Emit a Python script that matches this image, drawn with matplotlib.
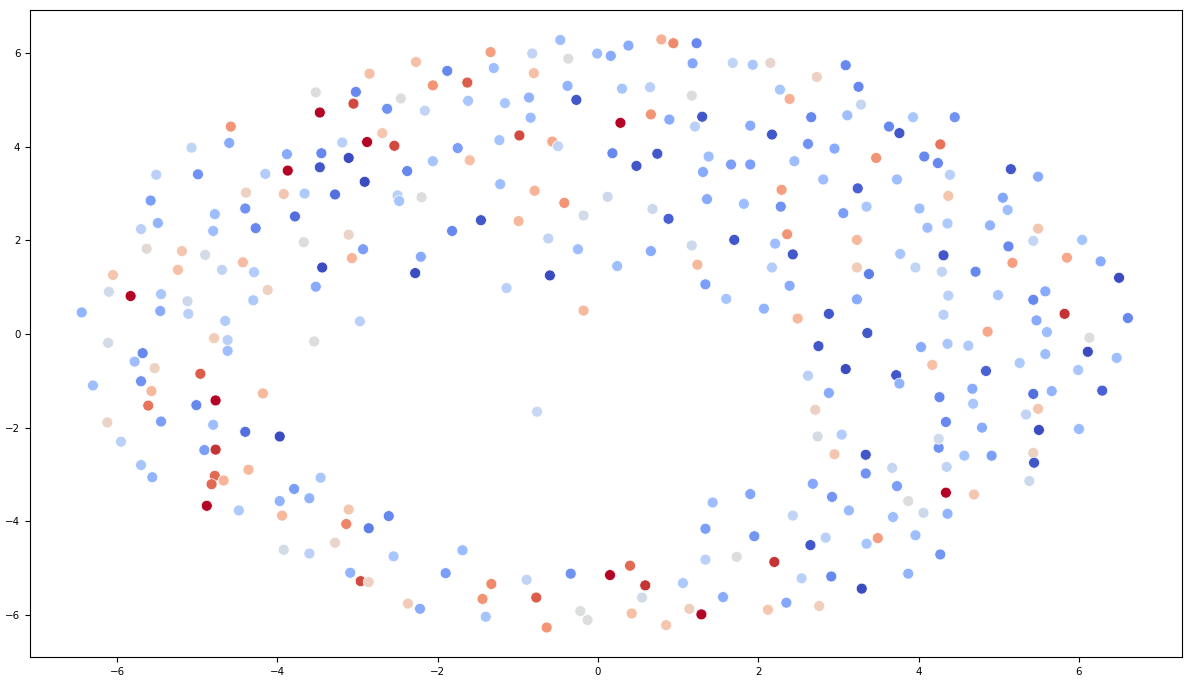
import numpy as np
import matplotlib
matplotlib.use("Agg")
import matplotlib.pyplot as plt
from matplotlib.colors import Normalize

# points: (x, y, colour value)
pts = [
    (-0.47, 6.28, 0.33), (-1.34, 6.02, 0.70), (-0.82, 5.99, 0.42), (-0.01, 5.99, 0.33),
    (0.16, 5.94, 0.28), (-0.37, 5.88, 0.50), (-2.27, 5.81, 0.62), (-2.85, 5.56, 0.62),
    (-1.88, 5.62, 0.20), (-1.30, 5.68, 0.33), (-0.80, 5.57, 0.62), (-1.63, 5.37, 0.82),
    (-2.06, 5.31, 0.72), (-3.02, 5.17, 0.20), (-3.05, 4.92, 0.85), (-2.46, 5.03, 0.50),
    (-2.63, 4.81, 0.22), (-2.16, 4.77, 0.42), (-1.62, 4.98, 0.36), (-1.16, 4.93, 0.36),
    (-0.86, 5.05, 0.30), (-0.38, 5.30, 0.30), (-0.27, 5.00, 0.10), (-0.84, 4.62, 0.32),
    (-3.47, 4.73, 1.00), (-3.19, 4.09, 0.40), (-2.88, 4.10, 0.98), (-2.69, 4.29, 0.60),
    (-2.54, 4.02, 0.85), (-3.45, 3.86, 0.20), (-3.11, 3.76, 0.08), (-3.47, 3.56, 0.10),
    (-2.91, 3.25, 0.08), (-3.28, 2.98, 0.15), (-2.38, 3.48, 0.20), (-2.06, 3.69, 0.35),
    (-1.75, 3.97, 0.25), (-1.60, 3.71, 0.62), (-1.23, 4.14, 0.35), (-0.98, 4.24, 0.85),
    (-0.57, 4.11, 0.68), (-0.50, 4.01, 0.42), (0.18, 3.86, 0.20), (-1.22, 3.20, 0.33),
    (-0.79, 3.06, 0.65), (-0.42, 2.80, 0.72), (-0.18, 2.53, 0.47), (0.12, 2.93, 0.45),
    (-2.50, 2.96, 0.40), (-2.48, 2.84, 0.35), (-2.20, 2.92, 0.50), (-1.46, 2.43, 0.10),
    (-0.99, 2.41, 0.64), (-1.82, 2.20, 0.20),
    (-3.52, 5.16, 0.50), (-4.58, 4.43, 0.72), (-4.60, 4.08, 0.28), (-5.07, 3.98, 0.42),
    (-3.88, 3.84, 0.28), (-3.87, 3.49, 0.98), (-5.51, 3.40, 0.40), (-4.99, 3.41, 0.22),
    (-4.15, 3.42, 0.38), (-4.39, 3.02, 0.56), (-3.92, 2.99, 0.60), (-3.66, 3.00, 0.37),
    (-5.58, 2.85, 0.25), (-4.40, 2.68, 0.22), (-3.78, 2.51, 0.15), (-4.78, 2.56, 0.33),
    (-5.49, 2.37, 0.30), (-5.70, 2.24, 0.40), (-4.80, 2.20, 0.33), (-4.27, 2.26, 0.20),
    (-3.67, 1.96, 0.50), (-5.63, 1.82, 0.52), (-5.19, 1.77, 0.60), (-4.90, 1.69, 0.47),
    (-4.43, 1.53, 0.63), (-3.44, 1.42, 0.08), (-6.05, 1.26, 0.60), (-5.24, 1.37, 0.62),
    (-4.69, 1.37, 0.42), (-4.29, 1.32, 0.38), (-4.12, 0.94, 0.56), (-3.52, 1.01, 0.28),
    (-6.10, 0.90, 0.46), (-5.83, 0.81, 1.00), (-5.45, 0.85, 0.36), (-5.12, 0.70, 0.45),
    (-4.30, 0.72, 0.37), (-6.44, 0.46, 0.30), (-5.46, 0.49, 0.28), (-5.11, 0.43, 0.40),
    (-4.65, 0.28, 0.38), (-4.79, -0.09, 0.58), (-4.62, -0.13, 0.40), (-4.62, -0.36, 0.33),
    (-6.11, -0.19, 0.47), (-3.54, -0.16, 0.50), (-5.68, -0.41, 0.20), (-5.78, -0.59, 0.33),
    (-5.53, -0.73, 0.56), (-4.96, -0.85, 0.82), (-6.30, -1.10, 0.33), (-5.70, -1.01, 0.22),
    (-5.57, -1.22, 0.64), (-4.18, -1.27, 0.64), (-5.61, -1.53, 0.78), (-5.01, -1.52, 0.20),
    (-4.77, -1.42, 1.00), (-6.12, -1.89, 0.55), (-5.45, -1.87, 0.25), (-4.80, -1.94, 0.33),
    (-4.40, -2.09, 0.15), (-3.97, -2.19, 0.07), (-5.95, -2.30, 0.40),
    (-4.91, -2.48, 0.25), (-4.77, -2.47, 0.88), (-5.70, -2.80, 0.35), (-5.56, -3.06, 0.30),
    (-4.78, -3.03, 0.80), (-4.82, -3.21, 0.80), (-4.67, -3.13, 0.65), (-4.36, -2.90, 0.64),
    (-4.88, -3.67, 1.00), (-4.48, -3.77, 0.37), (-3.97, -3.57, 0.30), (-3.79, -3.31, 0.25),
    (-3.60, -3.51, 0.30), (-3.46, -3.07, 0.36), (-3.94, -3.88, 0.64), (-3.92, -4.61, 0.47),
    (-3.60, -4.69, 0.40),
    (-3.11, -3.75, 0.60), (-3.14, -4.06, 0.75), (-2.86, -4.15, 0.18), (-2.61, -3.89, 0.20),
    (-3.28, -4.46, 0.54), (-2.55, -4.75, 0.36), (-3.09, -5.10, 0.30), (-2.96, -5.28, 0.85),
    (-2.86, -5.30, 0.56), (-2.37, -5.76, 0.58), (-2.22, -5.87, 0.28), (-1.90, -5.11, 0.25),
    (-1.69, -4.62, 0.32), (-1.33, -5.34, 0.74), (-1.44, -5.66, 0.72), (-1.40, -6.04, 0.35),
    (-0.89, -5.25, 0.42), (-0.77, -5.63, 0.82), (-0.64, -6.27, 0.72), (-0.34, -5.12, 0.22),
    (-0.22, -5.92, 0.50), (-0.13, -6.11, 0.50), (0.15, -5.15, 0.98),
    (0.40, -4.95, 0.80), (0.59, -5.37, 0.88), (0.55, -5.63, 0.47), (0.42, -5.97, 0.62),
    (0.85, -6.22, 0.60), (1.06, -5.32, 0.37), (1.14, -5.87, 0.57), (1.29, -5.99, 0.98),
    (1.56, -5.62, 0.28), (1.34, -4.82, 0.40), (1.73, -4.76, 0.50), (1.34, -4.16, 0.25),
    (1.43, -3.60, 0.33), (1.90, -3.42, 0.27), (1.95, -4.32, 0.23), (2.20, -4.87, 0.88),
    (2.12, -5.89, 0.60), (2.35, -5.74, 0.27), (2.54, -5.22, 0.40), (2.43, -3.88, 0.42),
    (2.68, -3.20, 0.27), (2.65, -4.51, 0.10), (2.84, -4.35, 0.40), (2.76, -5.81, 0.57),
    (2.91, -5.18, 0.20), (2.92, -3.48, 0.23), (3.13, -3.77, 0.32), (2.95, -2.57, 0.60),
    (3.34, -2.58, 0.10), (3.34, -2.98, 0.22), (3.67, -2.86, 0.43), (3.73, -3.25, 0.25),
    (3.68, -3.91, 0.33), (3.49, -4.36, 0.70), (3.35, -4.48, 0.35), (3.29, -5.44, 0.08),
    (4.25, -2.43, 0.22), (4.57, -2.60, 0.35), (4.91, -2.60, 0.25), (5.43, -2.54, 0.56),
    (5.44, -2.75, 0.10), (4.35, -2.84, 0.42), (5.38, -3.14, 0.45), (4.34, -3.39, 1.00),
    (4.69, -3.43, 0.60), (3.87, -3.57, 0.50), (4.06, -3.82, 0.45), (4.36, -3.84, 0.30),
    (3.96, -4.30, 0.33), (4.27, -4.71, 0.23), (3.87, -5.12, 0.30),
    (-3.11, 2.12, 0.55), (-2.93, 1.81, 0.25), (-3.07, 1.62, 0.65), (-2.97, 0.27, 0.40),
    (-2.21, 1.65, 0.28), (-2.28, 1.30, 0.08), (-0.62, 2.04, 0.42), (-0.25, 1.81, 0.33),
    (-0.60, 1.25, 0.08), (-1.14, 0.98, 0.40), (-0.18, 0.50, 0.64), (-0.76, -1.66, 0.44),
    (0.24, 1.45, 0.33),
    (0.66, 1.77, 0.28), (1.17, 1.89, 0.45), (1.70, 2.01, 0.10), (1.24, 1.48, 0.64),
    (1.34, 1.06, 0.25), (1.60, 0.75, 0.35), (2.07, 0.54, 0.30), (2.21, 1.93, 0.33),
    (2.36, 2.13, 0.72), (2.43, 1.70, 0.10), (2.17, 1.42, 0.38), (2.39, 1.03, 0.28),
    (2.49, 0.33, 0.64), (3.23, 2.01, 0.64), (3.23, 1.42, 0.58), (3.38, 1.28, 0.18),
    (3.77, 1.71, 0.36), (3.23, 0.74, 0.28), (2.88, 0.43, 0.10), (3.36, 0.02, 0.10),
    (2.75, -0.26, 0.10), (3.09, -0.75, 0.08), (2.62, -0.89, 0.40), (3.72, -0.88, 0.10),
    (3.76, -1.06, 0.30), (2.88, -1.26, 0.28), (2.71, -1.62, 0.56), (2.74, -2.19, 0.48),
    (3.04, -2.15, 0.38),
    (0.79, 6.29, 0.66), (0.94, 6.21, 0.74), (1.23, 6.21, 0.20), (0.38, 6.16, 0.28),
    (1.18, 5.78, 0.27), (1.68, 5.79, 0.42), (1.93, 5.75, 0.36), (2.15, 5.79, 0.54),
    (3.09, 5.74, 0.20), (2.73, 5.49, 0.56), (3.25, 5.28, 0.20), (3.28, 4.90, 0.43),
    (0.30, 5.24, 0.35), (0.65, 5.27, 0.40), (1.17, 5.09, 0.50), (2.27, 5.22, 0.36),
    (2.39, 5.02, 0.66), (0.28, 4.51, 0.96), (0.66, 4.69, 0.72), (0.89, 4.58, 0.28),
    (1.30, 4.64, 0.10), (1.21, 4.43, 0.40), (1.90, 4.45, 0.28), (2.17, 4.26, 0.10),
    (2.66, 4.63, 0.20), (3.11, 4.67, 0.33), (3.63, 4.43, 0.20), (3.76, 4.29, 0.10),
    (0.74, 3.85, 0.10), (0.48, 3.59, 0.10), (1.38, 3.79, 0.33), (1.31, 3.46, 0.28),
    (1.66, 3.62, 0.25), (1.90, 3.62, 0.25), (2.62, 4.06, 0.22), (2.95, 3.96, 0.28),
    (2.45, 3.69, 0.33), (3.47, 3.76, 0.72), (2.81, 3.30, 0.33), (3.73, 3.30, 0.33),
    (2.29, 3.08, 0.70), (3.24, 3.11, 0.12), (0.68, 2.67, 0.45), (0.88, 2.46, 0.12),
    (1.36, 2.88, 0.28), (1.82, 2.78, 0.33), (2.28, 2.72, 0.22), (3.06, 2.58, 0.25),
    (3.35, 2.72, 0.36),
    (3.93, 4.63, 0.36), (4.45, 4.63, 0.22), (4.27, 4.05, 0.78), (4.07, 3.79, 0.20),
    (4.24, 3.65, 0.20), (4.39, 3.40, 0.40), (5.15, 3.52, 0.10), (5.49, 3.36, 0.28),
    (4.37, 2.95, 0.60), (4.01, 2.68, 0.33), (5.05, 2.91, 0.27), (5.11, 2.65, 0.33),
    (4.36, 2.36, 0.37), (4.11, 2.27, 0.33), (4.89, 2.32, 0.30), (5.49, 2.25, 0.60),
    (5.43, 1.99, 0.43), (6.04, 2.01, 0.35), (5.12, 1.87, 0.20), (5.85, 1.63, 0.68),
    (6.27, 1.55, 0.28), (5.17, 1.52, 0.70), (4.31, 1.68, 0.10), (3.96, 1.42, 0.42),
    (4.29, 1.33, 0.42), (4.71, 1.33, 0.20), (6.50, 1.20, 0.08), (4.37, 0.82, 0.40),
    (4.99, 0.83, 0.35), (5.43, 0.73, 0.20), (5.58, 0.91, 0.28), (5.82, 0.43, 0.88),
    (6.61, 0.34, 0.20), (4.31, 0.41, 0.40), (5.47, 0.29, 0.28), (5.60, 0.04, 0.33),
    (4.86, 0.05, 0.68), (6.13, -0.08, 0.50), (6.11, -0.38, 0.08), (6.47, -0.51, 0.33),
    (4.03, -0.28, 0.28), (4.36, -0.21, 0.36), (4.62, -0.25, 0.37), (5.58, -0.43, 0.33),
    (5.26, -0.62, 0.37), (5.99, -0.77, 0.36), (4.17, -0.66, 0.62), (4.84, -0.79, 0.12),
    (4.67, -1.17, 0.28), (5.43, -1.28, 0.15), (5.66, -1.22, 0.30), (6.29, -1.21, 0.12),
    (4.26, -1.35, 0.20), (4.68, -1.49, 0.36), (5.49, -1.60, 0.60), (5.34, -1.72, 0.42),
    (4.34, -1.88, 0.20), (4.79, -2.00, 0.28), (5.50, -2.05, 0.08), (6.00, -2.03, 0.32),
    (4.25, -2.24, 0.46),
]

x = np.array([p[0] for p in pts])
y = np.array([p[1] for p in pts])
c = np.array([p[2] for p in pts])

fig = plt.figure(figsize=(11.91, 6.82), dpi=100)
ax = fig.add_axes([30 / 1191, 1 - 657 / 682, 1152 / 1191, 647 / 682])

ax.scatter(x, y, c=c, cmap="coolwarm", norm=Normalize(vmin=0.08, vmax=0.92),
           s=62, edgecolors="white", linewidths=0.5)

ax.set_xlim(-7.085, 7.285)
ax.set_ylim(-6.9, 6.92)
ax.set_xticks([-6, -4, -2, 0, 2, 4, 6])
ax.set_yticks([-6, -4, -2, 0, 2, 4, 6])
ax.tick_params(labelsize=7.4)

fig.savefig("out.png", dpi=100)
